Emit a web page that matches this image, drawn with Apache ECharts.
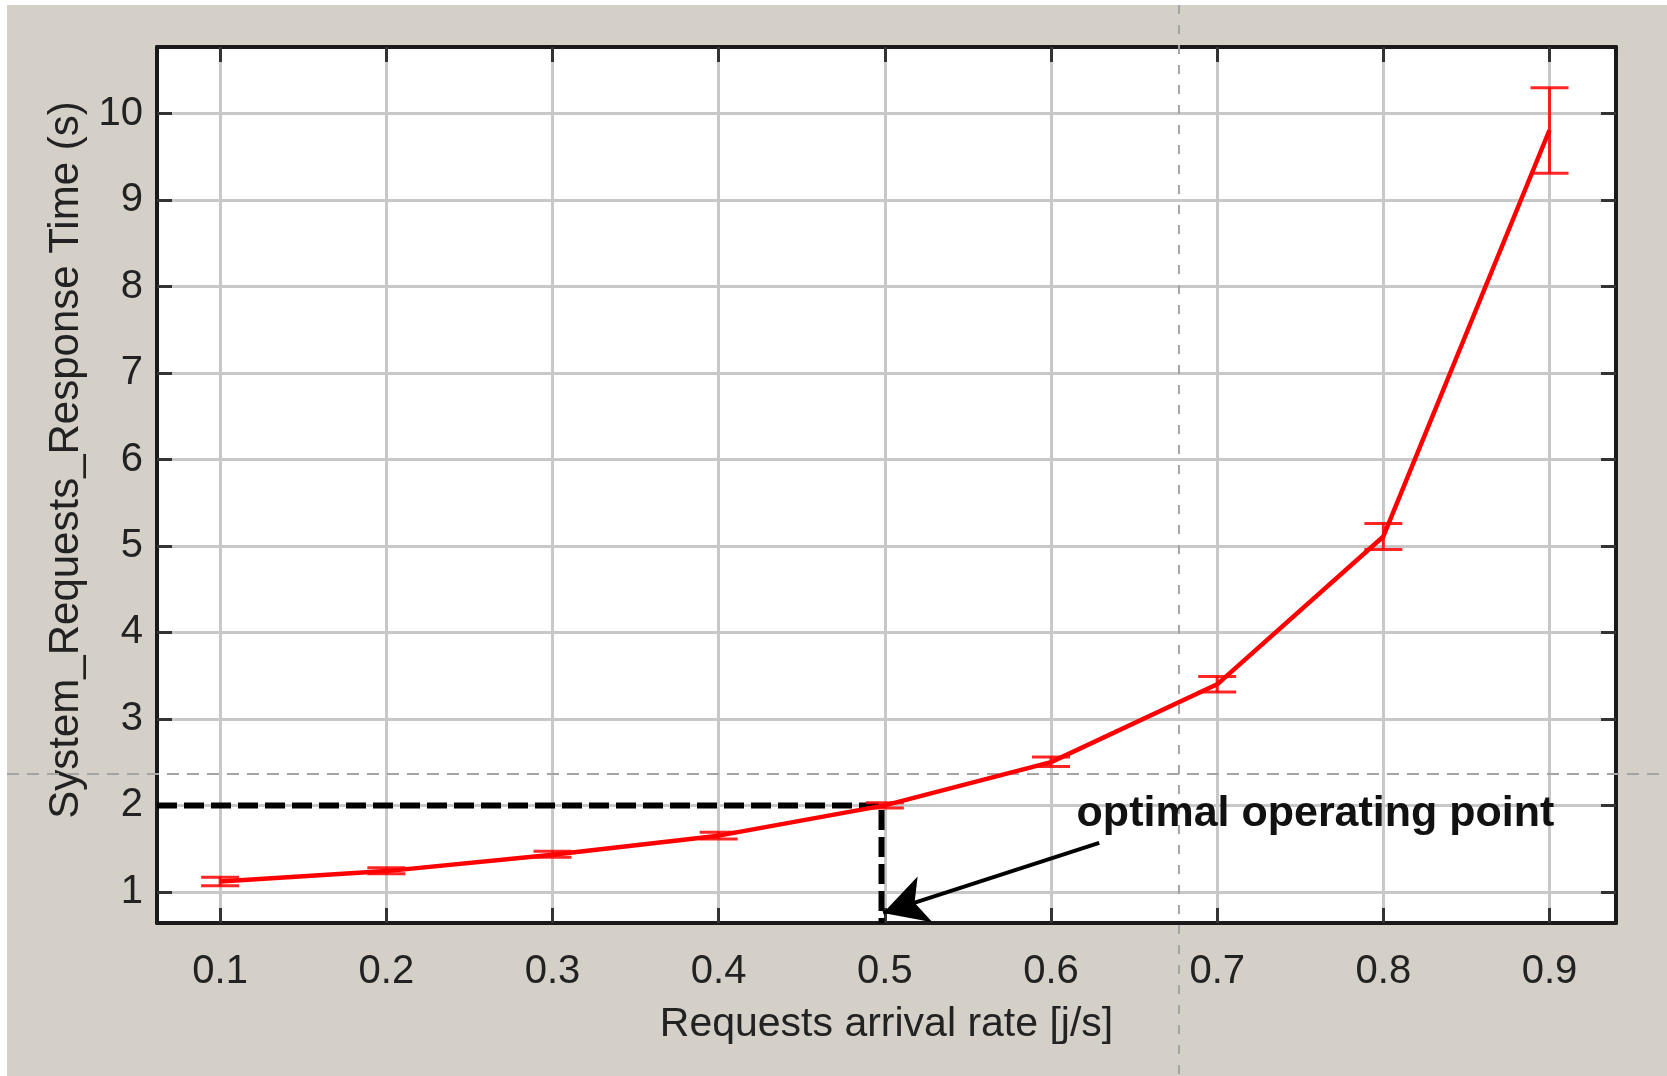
<!DOCTYPE html>
<html>
<head>
<meta charset="utf-8">
<script src="https://cdn.jsdelivr.net/npm/echarts@6/dist/echarts.min.js"></script>
<style>
  html, body { margin: 0; padding: 0; background: #ffffff; width: 1667px; height: 1076px; overflow: hidden; }
  #chart { position: absolute; left: 7px; top: 5px; width: 1660px; height: 1071px; }
</style>
</head>
<body>
<div id="chart"></div>
<script>
// ---- data ----
const xValues  = [0.1, 0.2, 0.3, 0.4, 0.5, 0.6, 0.7, 0.8, 0.9];
const meanTime = [1.12, 1.24, 1.43, 1.65, 2.00, 2.50, 3.40, 5.11, 9.81];
const errLow   = [1.07, 1.21, 1.40, 1.61, 1.97, 2.45, 3.31, 4.96, 9.31];
const errHigh  = [1.17, 1.28, 1.47, 1.69, 2.03, 2.56, 3.49, 5.26, 10.30];

const xTicks = [0.1, 0.2, 0.3, 0.4, 0.5, 0.6, 0.7, 0.8, 0.9];
const xTickLabels = ['0.1', '0.2', '0.3', '0.4', '0.5', '0.6', '0.7', '0.8', '0.9'];
const yTicks = [1, 2, 3, 4, 5, 6, 7, 8, 9, 10];
const xRange = [0.062, 0.94];
const yRange = [0.64, 10.77];

const xName = 'Requests arrival rate [j/s]';
const yName = 'System_Requests_Response Time (s)';
const annotationText = 'optimal operating point';

// annotation points (data coordinates)
const optimalPoint = [0.498, 2.0];
const arrowFrom = [0.629, 1.567];
const arrowTo = [0.499, 0.757];
const labelAnchor = [0.6154, 1.90];
const cursorPoint = [0.677, 2.364];

// ---- chart ----
const chart = echarts.init(document.getElementById('chart'), null, { renderer: 'canvas' });
const FONT = 'Liberation Sans, Arial, sans-serif';
const frameColor = '#1a1a1a';

const lineData = xValues.map((x, i) => [x, meanTime[i]]);
const errData = xValues.map((x, i) => [x, errLow[i], errHigh[i]]);
const dashedData = [[xRange[0], optimalPoint[1]], optimalPoint, [optimalPoint[0], yRange[0]]];

function labelFor(v) {
  const i = xTicks.findIndex(t => Math.abs(t - v) < 1e-6);
  return i >= 0 ? xTickLabels[i] : '';
}

const option = {
  animation: false,
  backgroundColor: '#d4d0c8',
  grid: { left: 150, top: 42, right: 51, bottom: 153, show: true, backgroundColor: '#ffffff', borderWidth: 0 },
  xAxis: [
    {
      type: 'value', min: xRange[0], max: xRange[1], position: 'bottom',
      name: xName, nameLocation: 'middle', nameGap: 81,
      nameTextStyle: { fontFamily: FONT, fontSize: 41, color: '#222' },
      axisLine: { show: true, onZero: false, lineStyle: { color: frameColor, width: 4 } },
      axisTick: { show: true, inside: true, length: 15, customValues: xTicks, lineStyle: { color: '#333', width: 3 } },
      axisLabel: { show: true, customValues: xTicks, formatter: labelFor, margin: 29, fontFamily: FONT, fontSize: 40, color: '#222' },
      splitLine: { show: true, lineStyle: { color: '#c8c8c8', width: 3 } }
    },
    {
      type: 'value', min: xRange[0], max: xRange[1], position: 'top',
      axisLine: { show: true, onZero: false, lineStyle: { color: frameColor, width: 4 } },
      axisTick: { show: true, inside: true, length: 15, customValues: xTicks, lineStyle: { color: '#333', width: 3 } },
      axisLabel: { show: false },
      splitLine: { show: false }
    }
  ],
  yAxis: [
    {
      type: 'value', min: yRange[0], max: yRange[1], position: 'left',
      name: yName, nameLocation: 'middle', nameGap: 68,
      nameTextStyle: { fontFamily: FONT, fontSize: 42, color: '#222', padding: [0, 0, 0, 50] },
      axisLine: { show: true, onZero: false, lineStyle: { color: frameColor, width: 4 } },
      axisTick: { show: true, inside: true, length: 15, customValues: yTicks, lineStyle: { color: '#333', width: 3 } },
      axisLabel: { show: true, customValues: yTicks, margin: 14, fontFamily: FONT, fontSize: 40, color: '#222' },
      splitLine: { show: true, lineStyle: { color: '#c8c8c8', width: 3 } }
    },
    {
      type: 'value', min: yRange[0], max: yRange[1], position: 'right',
      axisLine: { show: true, onZero: false, lineStyle: { color: frameColor, width: 4 } },
      axisTick: { show: true, inside: true, length: 15, customValues: yTicks, lineStyle: { color: '#333', width: 3 } },
      axisLabel: { show: false },
      splitLine: { show: false }
    }
  ],
  series: [
    {
      type: 'line', name: 'optimal', data: dashedData, symbol: 'none', z: 3,
      lineStyle: { color: '#000', width: 6, type: [20, 7] },
      markLine: {
        silent: true, symbol: ['none', 'arrow'], symbolSize: [36, 44],
        lineStyle: { type: 'solid', color: '#000', width: 4 },
        label: { show: false },
        data: [[{ coord: arrowFrom }, { coord: arrowTo }]]
      },
      markPoint: {
        silent: true, symbol: 'circle', symbolSize: 0,
        data: [{ coord: labelAnchor }],
        label: { show: true, position: 'right', distance: 0, formatter: annotationText,
                 fontFamily: 'Liberation Sans Narrow, Liberation Sans, sans-serif', fontWeight: 'bold', fontSize: 43, color: '#111' }
      }
    },
    {
      type: 'line', name: 'mean', data: lineData, symbol: 'none', z: 4,
      lineStyle: { color: '#ff0000', width: 4.5 }
    },
    {
      type: 'custom', name: 'error', data: errData, z: 5,
      encode: { x: 0, y: [1, 2] },
      renderItem: function (params, api) {
        const x = api.value(0);
        const pLo = api.coord([x, api.value(1)]);
        const pHi = api.coord([x, api.value(2)]);
        const hw = 19;
        const st = { stroke: 'rgba(255,0,0,0.85)', lineWidth: 3 };
        return {
          type: 'group',
          children: [
            { type: 'line', shape: { x1: pLo[0], y1: pLo[1], x2: pHi[0], y2: pHi[1] }, style: st },
            { type: 'line', shape: { x1: pLo[0] - hw, y1: pLo[1], x2: pLo[0] + hw, y2: pLo[1] }, style: st },
            { type: 'line', shape: { x1: pHi[0] - hw, y1: pHi[1], x2: pHi[0] + hw, y2: pHi[1] }, style: st }
          ]
        };
      }
    }
  ]
};
chart.setOption(option);

// crosshair cursor lines (span the whole figure), positioned through the axes
const cx = chart.convertToPixel({ xAxisIndex: 0 }, cursorPoint[0]);
const cy = chart.convertToPixel({ yAxisIndex: 0 }, cursorPoint[1]);
const W = chart.getWidth(), H = chart.getHeight();
chart.setOption({
  graphic: [
    { type: 'line', silent: true, z: 1, shape: { x1: cx, y1: 0, x2: cx, y2: H }, style: { stroke: '#a4a4a4', lineWidth: 2, lineDash: [9, 11] } },
    { type: 'line', silent: true, z: 1, shape: { x1: 0, y1: cy, x2: W, y2: cy }, style: { stroke: '#a4a4a4', lineWidth: 2, lineDash: [12, 8] } }
  ]
});
</script>
</body>
</html>
